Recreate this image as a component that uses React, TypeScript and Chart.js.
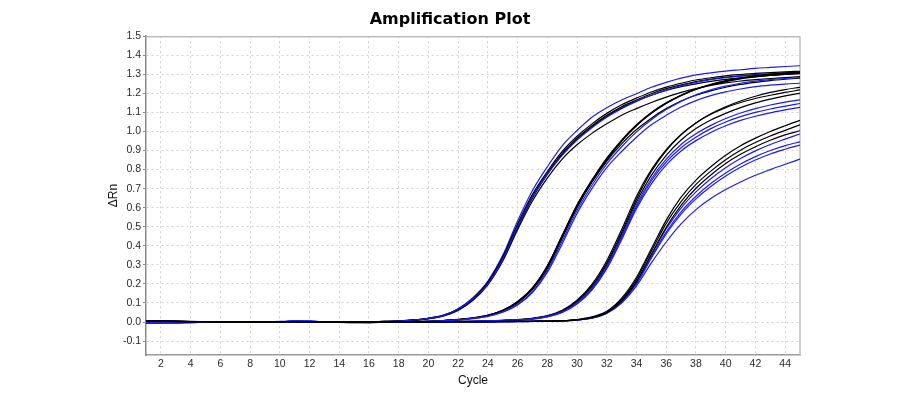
import React, { useEffect, useRef } from "react";
import { Chart, registerables } from "chart.js";

Chart.register(...registerables);

// ---------- data ----------
const cycles = [
  1, 2, 3, 4, 5, 6, 7, 8, 9, 10, 11, 12, 13, 14, 15, 16, 17, 18, 19, 20, 21, 22, 23,
  24, 25, 26, 27, 28, 29, 30, 31, 32, 33, 34, 35, 36, 37, 38, 39, 40, 41, 42, 43, 44, 45,
];
const xTickValues = [2, 4, 6, 8, 10, 12, 14, 16, 18, 20, 22, 24, 26, 28, 30, 32, 34, 36, 38, 40, 42, 44];
const yTickValues = [-0.1, 0, 0.1, 0.2, 0.3, 0.4, 0.5, 0.6, 0.7, 0.8, 0.9, 1.0, 1.1, 1.2, 1.3, 1.4, 1.5];

// Group 1 (earliest)
const g1b1 = [
  -0.004, -0.004, -0.003, -0.002, -0.001, 0.0, 0.0, 0.001, 0.001, 0.002, 0.004, 0.003, 0.001, 0.0, -0.001, 0.0,
  0.003, 0.006, 0.011, 0.02, 0.036, 0.07, 0.128, 0.215, 0.35, 0.53, 0.69, 0.815, 0.925, 1.005, 1.075, 1.125,
  1.165, 1.198, 1.232, 1.258, 1.28, 1.297, 1.308, 1.317, 1.324, 1.331, 1.336, 1.341, 1.345,
];
const g1k1 = [
  0.006, 0.005, 0.003, 0.002, 0.001, 0.001, 0.0, 0.0, 0.001, 0.001, 0.002, 0.002, 0.001, 0.0, 0.0, 0.001,
  0.003, 0.005, 0.01, 0.019, 0.034, 0.066, 0.122, 0.205, 0.335, 0.505, 0.66, 0.78, 0.885, 0.965, 1.03, 1.085,
  1.13, 1.165, 1.198, 1.225, 1.245, 1.262, 1.275, 1.285, 1.292, 1.298, 1.303, 1.307, 1.31,
];
const g1k2 = [
  0.004, 0.004, 0.002, 0.001, 0.0, 0.0, 0.001, 0.001, 0.0, 0.001, 0.003, 0.002, 0.0, -0.001, 0.0, 0.001,
  0.002, 0.005, 0.01, 0.018, 0.033, 0.064, 0.118, 0.2, 0.325, 0.495, 0.65, 0.775, 0.88, 0.96, 1.025, 1.08,
  1.125, 1.16, 1.19, 1.215, 1.235, 1.25, 1.263, 1.273, 1.281, 1.288, 1.294, 1.299, 1.303,
];
const g1k3 = [
  0.005, 0.003, 0.002, 0.002, 0.001, 0.0, 0.0, 0.0, 0.001, 0.002, 0.002, 0.001, 0.0, 0.0, 0.001, 0.001,
  0.002, 0.004, 0.009, 0.017, 0.031, 0.061, 0.114, 0.195, 0.32, 0.485, 0.635, 0.755, 0.855, 0.93, 0.99, 1.04,
  1.085, 1.12, 1.152, 1.18, 1.205, 1.225, 1.242, 1.255, 1.265, 1.272, 1.278, 1.283, 1.288,
];
const g1b2 = [
  -0.005, -0.004, -0.004, -0.003, -0.002, -0.001, 0.0, 0.0, 0.001, 0.003, 0.005, 0.004, 0.001, -0.001, -0.002, -0.001,
  0.002, 0.005, 0.01, 0.019, 0.034, 0.067, 0.122, 0.2, 0.33, 0.5, 0.655, 0.775, 0.875, 0.955, 1.02, 1.075,
  1.12, 1.158, 1.19, 1.218, 1.24, 1.258, 1.272, 1.282, 1.29, 1.296, 1.3, 1.303, 1.305,
];
const g1k4 = [
  0.007, 0.005, 0.004, 0.002, 0.001, 0.0, 0.0, 0.001, 0.002, 0.002, 0.003, 0.002, 0.001, 0.001, 0.0, 0.0,
  0.003, 0.006, 0.011, 0.02, 0.035, 0.068, 0.125, 0.21, 0.342, 0.515, 0.67, 0.79, 0.895, 0.975, 1.04, 1.095,
  1.14, 1.175, 1.207, 1.233, 1.253, 1.27, 1.282, 1.292, 1.299, 1.305, 1.309, 1.313, 1.316,
];

// Group 2
const g2k1 = [
  0.006, 0.004, 0.003, 0.002, 0.001, 0.0, 0.0, 0.0, 0.001, 0.002, 0.003, 0.002, 0.001, 0.0, 0.0, 0.0, 0.001, 0.002,
  0.003, 0.004, 0.008, 0.014, 0.022, 0.036, 0.062, 0.108, 0.18, 0.295, 0.455, 0.615, 0.745, 0.86, 0.955, 1.035,
  1.1, 1.15, 1.19, 1.222, 1.245, 1.262, 1.276, 1.286, 1.294, 1.3, 1.305,
];
const g2k2 = [
  0.005, 0.004, 0.002, 0.001, 0.001, 0.0, 0.0, 0.001, 0.001, 0.001, 0.002, 0.002, 0.0, 0.0, 0.001, 0.0, 0.001, 0.001,
  0.002, 0.004, 0.007, 0.012, 0.02, 0.033, 0.058, 0.1, 0.17, 0.28, 0.44, 0.6, 0.735, 0.85, 0.948, 1.03,
  1.095, 1.147, 1.188, 1.22, 1.245, 1.264, 1.279, 1.29, 1.299, 1.306, 1.312,
];
const g2k3 = [
  0.004, 0.003, 0.003, 0.002, 0.0, 0.0, 0.001, 0.0, 0.0, 0.001, 0.002, 0.001, 0.0, 0.0, 0.0, 0.001, 0.001, 0.002,
  0.002, 0.004, 0.008, 0.013, 0.021, 0.035, 0.06, 0.104, 0.175, 0.29, 0.45, 0.605, 0.735, 0.845, 0.935, 1.01,
  1.07, 1.12, 1.16, 1.19, 1.213, 1.232, 1.247, 1.258, 1.267, 1.274, 1.28,
];
const g2b1 = [
  -0.004, -0.003, -0.003, -0.002, -0.001, 0.0, 0.0, 0.001, 0.001, 0.002, 0.004, 0.003, 0.0, -0.002, -0.003, -0.002, -0.001, 0.0,
  0.001, 0.003, 0.006, 0.011, 0.018, 0.03, 0.052, 0.09, 0.155, 0.26, 0.41, 0.57, 0.7, 0.81, 0.895, 0.97,
  1.035, 1.085, 1.128, 1.162, 1.188, 1.208, 1.223, 1.235, 1.243, 1.249, 1.253,
];
const g2b2 = [
  -0.003, -0.003, -0.002, -0.002, -0.001, 0.0, 0.001, 0.001, 0.0, 0.002, 0.003, 0.003, 0.001, -0.001, -0.002, -0.002, 0.0, 0.0,
  0.001, 0.003, 0.006, 0.011, 0.019, 0.031, 0.054, 0.093, 0.16, 0.27, 0.425, 0.585, 0.718, 0.83, 0.92, 0.998,
  1.062, 1.115, 1.158, 1.192, 1.218, 1.238, 1.253, 1.264, 1.272, 1.278, 1.282,
];
const g2k4 = [
  0.006, 0.005, 0.003, 0.002, 0.001, 0.001, 0.0, 0.0, 0.0, 0.001, 0.002, 0.002, 0.001, 0.001, 0.0, 0.0, 0.001, 0.001,
  0.002, 0.004, 0.008, 0.013, 0.021, 0.035, 0.061, 0.106, 0.178, 0.292, 0.452, 0.612, 0.742, 0.856, 0.952, 1.032,
  1.097, 1.149, 1.19, 1.223, 1.248, 1.267, 1.281, 1.292, 1.3, 1.306, 1.311,
];

// Group 3
const g3k1 = [
  0.005, 0.004, 0.003, 0.002, 0.001, 0.0, 0.0, 0.0, 0.001, 0.001, 0.002, 0.002, 0.001, 0.0, 0.0, 0.0, 0.001, 0.001, 0.001, 0.002, 0.002,
  0.003, 0.004, 0.006, 0.009, 0.013, 0.02, 0.034, 0.062, 0.115, 0.198, 0.322, 0.485, 0.66, 0.8, 0.905, 0.985,
  1.045, 1.09, 1.125, 1.152, 1.173, 1.19, 1.205, 1.218,
];
const g3k2 = [
  0.006, 0.004, 0.003, 0.003, 0.002, 0.001, 0.0, 0.0, 0.0, 0.001, 0.002, 0.001, 0.001, 0.0, 0.0, 0.001, 0.001, 0.001, 0.002, 0.002, 0.002,
  0.003, 0.004, 0.006, 0.009, 0.012, 0.019, 0.032, 0.058, 0.11, 0.19, 0.31, 0.47, 0.645, 0.79, 0.9, 0.983,
  1.045, 1.093, 1.13, 1.16, 1.185, 1.205, 1.22, 1.232,
];
const g3k3 = [
  0.004, 0.003, 0.002, 0.002, 0.001, 0.001, 0.0, 0.001, 0.001, 0.001, 0.002, 0.002, 0.0, 0.0, 0.0, 0.0, 0.0, 0.001, 0.001, 0.001, 0.002,
  0.002, 0.003, 0.005, 0.008, 0.012, 0.018, 0.031, 0.056, 0.105, 0.182, 0.3, 0.46, 0.63, 0.77, 0.875, 0.955,
  1.015, 1.06, 1.095, 1.125, 1.15, 1.17, 1.187, 1.2,
];
const g3b1 = [
  -0.004, -0.004, -0.003, -0.002, -0.001, 0.0, 0.0, 0.0, 0.001, 0.002, 0.004, 0.003, 0.001, -0.001, -0.002, -0.002, -0.001, -0.001, 0.0, 0.0, 0.001,
  0.002, 0.003, 0.005, 0.007, 0.01, 0.016, 0.028, 0.052, 0.098, 0.172, 0.285, 0.44, 0.605, 0.74, 0.84, 0.915,
  0.97, 1.015, 1.05, 1.078, 1.1, 1.118, 1.133, 1.147,
];
const g3b2 = [
  -0.005, -0.004, -0.003, -0.003, -0.002, -0.001, 0.0, 0.0, 0.001, 0.002, 0.003, 0.003, 0.001, 0.0, -0.002, -0.003, -0.002, -0.001, -0.001, 0.0, 0.0,
  0.001, 0.002, 0.004, 0.007, 0.01, 0.015, 0.027, 0.05, 0.095, 0.168, 0.28, 0.432, 0.595, 0.725, 0.825, 0.898,
  0.952, 0.995, 1.03, 1.058, 1.08, 1.098, 1.113, 1.127,
];
const g3b3 = [
  -0.003, -0.003, -0.002, -0.002, -0.001, 0.0, 0.0, 0.001, 0.001, 0.002, 0.003, 0.002, 0.001, -0.001, -0.002, -0.002, -0.001, 0.0, 0.0, 0.001, 0.001,
  0.002, 0.003, 0.005, 0.008, 0.011, 0.017, 0.03, 0.054, 0.102, 0.178, 0.292, 0.45, 0.615, 0.752, 0.855, 0.932,
  0.988, 1.032, 1.068, 1.097, 1.12, 1.139, 1.154, 1.166,
];

// Group 4 (latest)
const g4k1 = [
  0.005, 0.004, 0.003, 0.002, 0.001, 0.0, 0.0, 0.0, 0.001, 0.001, 0.002, 0.002, 0.001, 0.0, 0.0, 0.0, 0.0, 0.001, 0.001, 0.001, 0.001, 0.002, 0.002,
  0.002, 0.003, 0.003, 0.004, 0.005, 0.007, 0.013, 0.027, 0.056, 0.125, 0.235, 0.385, 0.535, 0.655, 0.745,
  0.815, 0.875, 0.925, 0.965, 1.0, 1.03, 1.058,
];
const g4k2 = [
  0.006, 0.004, 0.003, 0.002, 0.002, 0.001, 0.0, 0.0, 0.0, 0.001, 0.002, 0.001, 0.001, 0.0, 0.0, 0.001, 0.001, 0.001, 0.001, 0.002, 0.002, 0.002, 0.002,
  0.002, 0.003, 0.003, 0.004, 0.005, 0.007, 0.012, 0.025, 0.052, 0.118, 0.225, 0.372, 0.518, 0.632, 0.722,
  0.792, 0.852, 0.902, 0.942, 0.976, 1.006, 1.035,
];
const g4k3 = [
  0.004, 0.004, 0.002, 0.002, 0.001, 0.0, 0.0, 0.001, 0.001, 0.001, 0.002, 0.002, 0.0, 0.0, 0.0, 0.0, 0.001, 0.001, 0.001, 0.001, 0.002, 0.002, 0.002,
  0.002, 0.002, 0.003, 0.004, 0.005, 0.007, 0.012, 0.023, 0.049, 0.11, 0.212, 0.356, 0.497, 0.612, 0.702,
  0.772, 0.832, 0.88, 0.92, 0.954, 0.982, 1.004,
];
const g4b1 = [
  -0.004, -0.003, -0.003, -0.002, -0.001, 0.0, 0.0, 0.001, 0.001, 0.002, 0.004, 0.003, 0.0, -0.002, -0.002, -0.002, -0.001, 0.0, 0.0, 0.0, 0.001, 0.001, 0.001,
  0.001, 0.002, 0.003, 0.003, 0.004, 0.006, 0.011, 0.023, 0.05, 0.112, 0.212, 0.352, 0.488, 0.598, 0.683,
  0.752, 0.81, 0.858, 0.898, 0.932, 0.96, 0.987,
];
const g4b2 = [
  -0.005, -0.004, -0.004, -0.003, -0.002, -0.001, 0.0, 0.0, 0.001, 0.002, 0.003, 0.003, 0.001, -0.001, -0.003, -0.003, -0.002, -0.001, 0.0, 0.0, 0.0, 0.001, 0.001,
  0.001, 0.002, 0.002, 0.003, 0.004, 0.006, 0.01, 0.021, 0.047, 0.105, 0.2, 0.335, 0.462, 0.566, 0.646,
  0.711, 0.766, 0.812, 0.85, 0.882, 0.907, 0.929,
];
const g4b3 = [
  -0.004, -0.004, -0.003, -0.002, -0.002, -0.001, 0.0, 0.001, 0.001, 0.002, 0.003, 0.002, 0.0, -0.001, -0.002, -0.002, -0.001, 0.0, 0.0, 0.001, 0.001, 0.001, 0.001,
  0.001, 0.002, 0.003, 0.003, 0.004, 0.006, 0.011, 0.022, 0.048, 0.108, 0.206, 0.342, 0.472, 0.578, 0.66,
  0.727, 0.782, 0.829, 0.868, 0.9, 0.926, 0.946,
];
const g4b4 = [
  -0.003, -0.003, -0.002, -0.002, -0.001, 0.0, 0.0, 0.0, 0.001, 0.002, 0.003, 0.003, 0.001, -0.001, -0.002, -0.003, -0.002, -0.001, 0.0, 0.0, 0.0, 0.001, 0.001,
  0.001, 0.002, 0.002, 0.003, 0.004, 0.005, 0.01, 0.02, 0.045, 0.1, 0.19, 0.31, 0.42, 0.515, 0.59,
  0.648, 0.695, 0.735, 0.77, 0.8, 0.828, 0.855,
];

const BLACK = "#000000";
const BLUE = "#1c1cf2";

const seriesList: { values: number[]; color: string }[] = [
  { values: g4k1, color: BLACK },
  { values: g4k2, color: BLACK },
  { values: g4k3, color: BLACK },
  { values: g4b1, color: BLUE },
  { values: g4b2, color: BLUE },
  { values: g4b3, color: BLUE },
  { values: g4b4, color: BLUE },
  { values: g3b1, color: BLUE },
  { values: g3b2, color: BLUE },
  { values: g3b3, color: BLUE },
  { values: g3k1, color: BLACK },
  { values: g3k2, color: BLACK },
  { values: g3k3, color: BLACK },
  { values: g2b1, color: BLUE },
  { values: g2b2, color: BLUE },
  { values: g2k1, color: BLACK },
  { values: g2k2, color: BLACK },
  { values: g2k3, color: BLACK },
  { values: g2k4, color: BLACK },
  { values: g1b2, color: BLUE },
  { values: g1k1, color: BLACK },
  { values: g1k2, color: BLACK },
  { values: g1k3, color: BLACK },
  { values: g1k4, color: BLACK },
  { values: g1b1, color: BLUE },
];

const framePlugin = {
  id: "plotFrame",
  beforeDatasetsDraw(chart: any) {
    const { ctx, chartArea } = chart;
    const { left, top, right, bottom } = chartArea;
    ctx.save();
    ctx.strokeStyle = "#bdbdbd";
    ctx.lineWidth = 1.5;
    ctx.beginPath();
    ctx.moveTo(left, top + 0.5);
    ctx.lineTo(right, top + 0.5);
    ctx.moveTo(right, top);
    ctx.lineTo(right, bottom);
    ctx.stroke();
    ctx.restore();
  },
};

export default function App() {
  const canvasRef = useRef<HTMLCanvasElement | null>(null);

  useEffect(() => {
    const canvas = canvasRef.current;
    if (!canvas) return;
    const tickFont = { family: "'Liberation Sans', Arial, sans-serif", size: 10.5 };
    const chart = new Chart(canvas, {
      type: "line",
      data: {
        datasets: seriesList.map((s) => ({
          data: s.values.map((v, i) => ({ x: cycles[i], y: v })),
          borderColor: s.color,
          borderWidth: 1.2,
          pointRadius: 0,
          fill: false,
          cubicInterpolationMode: "monotone" as const,
        })),
      },
      options: {
        responsive: false,
        animation: false,
        events: [],
        layout: { padding: { left: 100, right: 100, top: 0, bottom: 0 } },
        plugins: {
          legend: { display: false },
          tooltip: { enabled: false },
          title: {
            display: true,
            text: "Amplification Plot",
            color: "#000",
            font: { family: "'DejaVu Sans', Verdana, sans-serif", size: 16, weight: "bold" },
            padding: { top: 10, bottom: 7 },
          },
        },
        scales: {
          x: {
            type: "linear",
            min: 1,
            max: 45,
            afterBuildTicks: (scale: any) => {
              scale.ticks = xTickValues.map((v) => ({ value: v }));
            },
            afterFit: (scale: any) => {
              scale.height = 40;
            },
            grid: { color: "#d2d2d2", lineWidth: 1, drawTicks: false },
            border: { display: true, color: "#9a9a9a", width: 1.5, dash: [2, 3] },
            ticks: {
              font: tickFont,
              color: "#2a2a2a",
              padding: 3,
              maxRotation: 0,
              autoSkip: false,
              callback: (v: any) => String(v),
            },
            title: {
              display: true,
              text: "Cycle",
              color: "#111",
              font: { family: "'Liberation Sans', Arial, sans-serif", size: 12 },
              padding: { top: 2, bottom: 7 },
            },
          },
          y: {
            type: "linear",
            min: -0.173,
            max: 1.5,
            afterBuildTicks: (scale: any) => {
              scale.ticks = yTickValues.map((v) => ({ value: v }));
            },
            afterFit: (scale: any) => {
              scale.width = 46;
            },
            grid: { color: "#d2d2d2", lineWidth: 1, drawTicks: true, tickLength: 3, tickColor: "#8a8a8a" },
            border: { display: true, color: "#8a8a8a", width: 1.5, dash: [2, 3] },
            ticks: {
              font: tickFont,
              color: "#2a2a2a",
              padding: 2,
              autoSkip: false,
              callback: (v: any) => Number(v).toFixed(1),
            },
            title: {
              display: true,
              text: "ΔRn",
              color: "#111",
              font: { family: "'Liberation Sans', Arial, sans-serif", size: 12 },
              padding: { top: 6, bottom: 2 },
            },
          },
        },
      },
      plugins: [framePlugin],
    });
    return () => chart.destroy();
  }, []);

  return (
    <div style={{ position: "absolute", left: 0, top: 0, width: 900, height: 395, background: "#fff" }}>
      <canvas ref={canvasRef} width={900} height={395} />
    </div>
  );
}
